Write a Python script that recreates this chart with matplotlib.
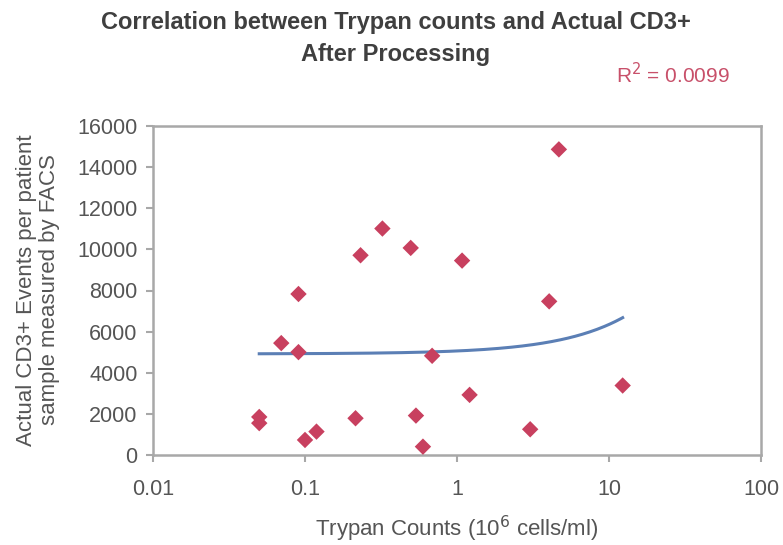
import numpy as np
import matplotlib
matplotlib.use("Agg")
import matplotlib.pyplot as plt

# Data
trypan_counts = [0.05, 0.05, 0.0698, 0.0906, 0.0906, 0.100, 0.119, 0.215, 0.232, 0.323,
                 0.496, 0.537, 0.597, 0.686, 1.08, 1.21, 3.03, 4.04, 4.68, 12.3]
cd3_events = [1850, 1550, 5442, 7830, 5003, 731, 1137, 1787, 9714, 11013,
              10071, 1917, 406, 4824, 9454, 2924, 1251, 7472, 14863, 3379]
x_ticks = [0.01, 0.1, 1, 10, 100]
x_tick_labels = ["0.01", "0.1", "1", "10", "100"]
y_ticks = [0, 2000, 4000, 6000, 8000, 10000, 12000, 14000, 16000]
r2_label = "R$^2$ = 0.0099"

plt.rcParams['font.family'] = ['Liberation Sans', 'DejaVu Sans']

fig = plt.figure(figsize=(7.83, 5.45), dpi=100)
W, H = 783, 545
left, right, top, bottom = 153, 761, 126, 455
ax = fig.add_axes([left / W, 1 - bottom / H, (right - left) / W, (bottom - top) / H])

text_col = "#555555"
ax.scatter(trypan_counts, cd3_events, marker='D', s=70, color="#c8405f",
           edgecolors='none', zorder=3)

# Linear trendline (as Excel would), drawn over data range on the log axis
x = np.array(trypan_counts)
y = np.array(cd3_events)
slope, intercept = np.polyfit(x, y, 1)
xt = np.logspace(np.log10(x.min()), np.log10(x.max()), 200)
ax.plot(xt, intercept + slope * xt, color="#5b7fb5", lw=2.2, zorder=2)

ax.set_xscale('log')
ax.set_xlim(0.01, 100)
ax.set_ylim(0, 16000)
ax.set_xticks(x_ticks)
ax.set_xticklabels(x_tick_labels)
ax.xaxis.set_minor_locator(matplotlib.ticker.NullLocator())
ax.set_yticks(y_ticks)
ax.set_yticklabels([str(v) for v in y_ticks])

for s in ax.spines.values():
    s.set_color("#a8a8a8")
    s.set_linewidth(1.8)
ax.tick_params(axis='both', colors="#a8a8a8", labelcolor=text_col, labelsize=15.5,
               length=5, width=1.5, direction='out')
ax.tick_params(axis='y', pad=6)
ax.tick_params(axis='x', pad=12)

ax.set_xlabel("Trypan Counts (10$^6$ cells/ml)", fontsize=16, color=text_col, labelpad=10)
fig.text(38 / W, 1 - 290 / H, "Actual CD3+ Events per patient\nsample measured by FACS",
         rotation=90, ha='center', va='center', fontsize=16, color=text_col,
         linespacing=1.1)

fig.text(396 / W, 1 - 22 / H, "Correlation between Trypan counts and Actual CD3+",
         ha='center', va='center', fontsize=17, fontweight='bold', color="#3f3f3f")
fig.text(396 / W, 1 - 54 / H, "After Processing",
         ha='center', va='center', fontsize=17, fontweight='bold', color="#3f3f3f")
fig.text(673 / W, 1 - 75 / H, r2_label, ha='center', va='center', fontsize=15,
         color="#c8506a")

fig.savefig("out.png", dpi=100)
